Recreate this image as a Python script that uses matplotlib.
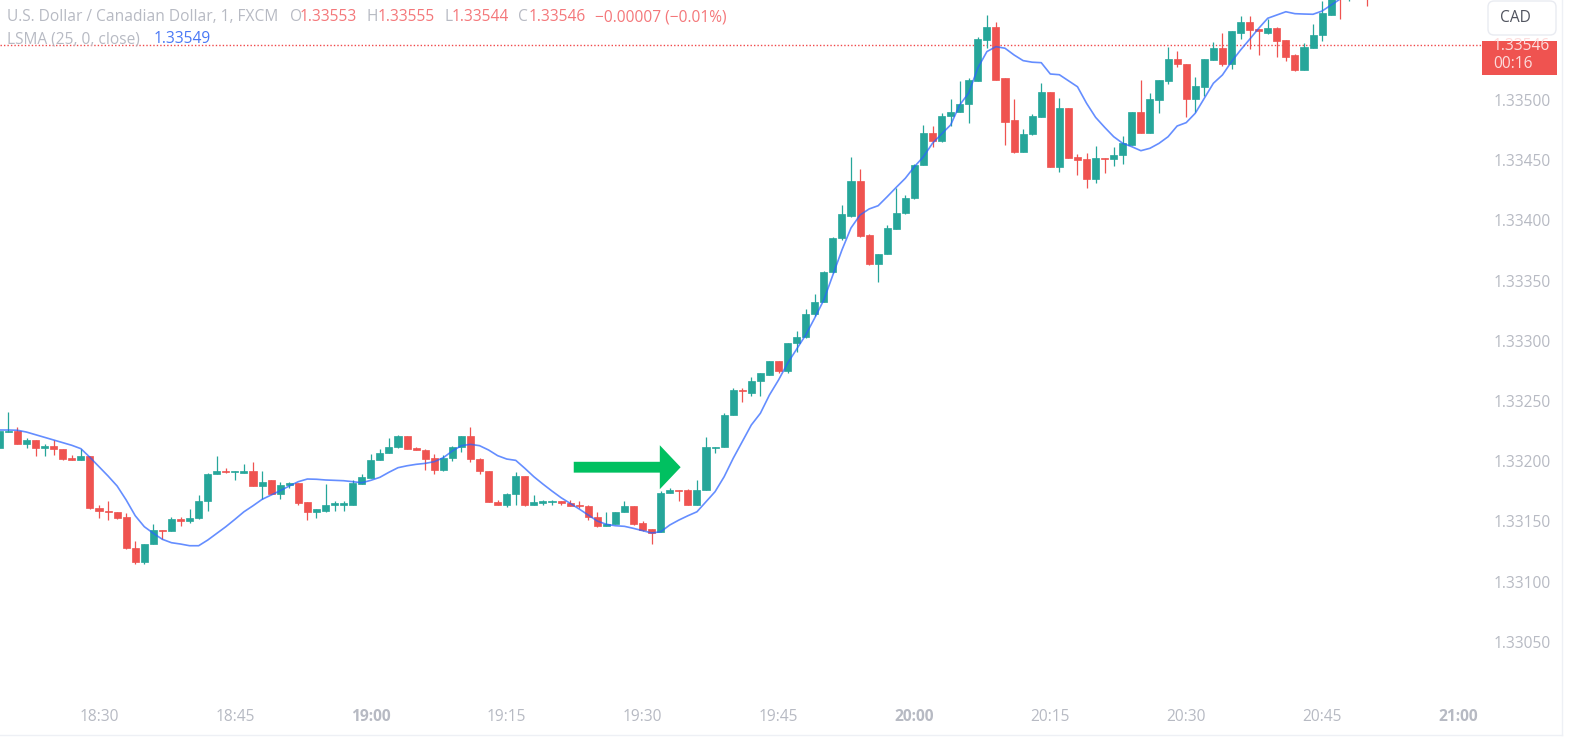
import matplotlib
matplotlib.use('Agg')
import matplotlib.pyplot as plt
from matplotlib.patches import FancyArrow, FancyBboxPatch, Rectangle
import numpy as np

plt.rcParams['font.family'] = ['Open Sans', 'DejaVu Sans']

# prices are kept as points above 1.33000, one row per 10 minutes, first bar is 18:19
BASE = 1.33
FIRST_MINUTE = 19  # minutes after 18:00

opens = [211, 224, 225, 214, 218, 211, 213, 210, 203, 201,
         204, 161, 159, 158, 154, 128, 116, 131, 143, 142,
         152, 150, 153, 167, 189, 192, 191, 190, 192, 179,
         184, 173, 180, 182, 166, 158, 159, 164, 164, 164,
         181, 186, 201, 207, 212, 221, 211, 209, 203, 193,
         203, 212, 221, 202, 192, 166, 164, 173, 188, 164,
         165, 166, 167, 165, 164, 163, 154, 146, 148, 158,
         163, 149, 144, 141, 174, 176, 176, 164, 176, 211,
         212, 238, 259, 257, 267, 272, 283, 275, 298, 303,
         322, 332, 357, 385, 404, 433, 388, 364, 372, 393,
         406, 419, 446, 473, 466, 487, 490, 497, 516, 550,
         561, 518, 483, 457, 472, 486, 507, 444, 493, 453,
         451, 434, 452, 451, 454, 463, 490, 473, 500, 516,
         534, 530, 501, 511, 533, 543, 530, 556, 565, 559,
         556, 560, 550, 537, 525, 543, 554, 571, 593, 586,
         592, 598]
highs = [225, 241, 228, 219, 218, 214, 218, 210, 205, 210,
         204, 164, 167, 158, 157, 134, 131, 148, 143, 154,
         154, 160, 172, 190, 204, 194, 192, 198, 199, 192,
         184, 183, 183, 182, 166, 160, 181, 167, 167, 184,
         189, 206, 210, 219, 222, 221, 212, 210, 206, 205,
         213, 221, 228, 203, 192, 168, 174, 191, 188, 172,
         168, 168, 167, 168, 167, 164, 158, 158, 158, 167,
         163, 150, 144, 175, 178, 176, 177, 184, 220, 212,
         240, 261, 261, 270, 273, 283, 283, 298, 308, 326,
         339, 358, 386, 413, 453, 443, 389, 372, 396, 427,
         421, 447, 479, 478, 489, 501, 516, 518, 552, 571,
         565, 518, 501, 476, 488, 514, 507, 502, 493, 455,
         456, 462, 452, 461, 470, 490, 517, 506, 517, 544,
         541, 530, 519, 534, 548, 556, 557, 570, 570, 559,
         567, 561, 550, 538, 547, 563, 582, 590, 595, 596,
         600, 600]
lows = [211, 224, 214, 211, 204, 204, 205, 201, 201, 201,
        160, 153, 151, 152, 127, 115, 115, 131, 135, 142,
        146, 149, 152, 159, 189, 190, 184, 190, 179, 169,
        173, 169, 178, 164, 151, 153, 158, 159, 159, 164,
        181, 186, 201, 207, 211, 210, 209, 193, 189, 192,
        200, 208, 199, 189, 166, 164, 162, 164, 163, 164,
        164, 164, 164, 163, 161, 151, 145, 146, 148, 158,
        147, 142, 131, 141, 174, 167, 164, 164, 176, 207,
        212, 238, 249, 254, 254, 272, 273, 273, 291, 302,
        321, 332, 356, 384, 403, 386, 363, 349, 372, 393,
        405, 418, 446, 461, 465, 478, 490, 481, 516, 543,
        517, 463, 456, 457, 471, 486, 444, 440, 452, 438,
        427, 431, 439, 445, 447, 463, 473, 473, 489, 513,
        527, 486, 490, 503, 533, 528, 526, 551, 542, 537,
        555, 536, 532, 524, 525, 543, 549, 571, 567, 582,
        586, 578]
closes = [225, 225, 214, 218, 211, 213, 210, 202, 201, 204,
          161, 159, 158, 153, 128, 116, 131, 143, 142, 152,
          150, 153, 167, 189, 192, 191, 192, 192, 179, 183,
          173, 180, 182, 165, 158, 160, 164, 165, 165, 182,
          187, 201, 207, 212, 221, 210, 209, 202, 193, 203,
          212, 221, 202, 192, 166, 164, 173, 188, 164, 166,
          167, 167, 165, 163, 163, 154, 146, 148, 158, 163,
          148, 143, 140, 174, 176, 175, 164, 176, 212, 212,
          238, 259, 258, 267, 273, 283, 275, 298, 303, 322,
          332, 357, 385, 405, 433, 387, 364, 372, 394, 406,
          419, 446, 473, 466, 487, 490, 497, 517, 551, 561,
          517, 482, 457, 472, 487, 507, 444, 493, 452, 450,
          434, 452, 451, 454, 464, 490, 473, 501, 517, 534,
          530, 501, 512, 534, 543, 530, 557, 565, 558, 557,
          560, 549, 536, 525, 544, 554, 572, 588, 586, 592,
          598, 590]
lsma = [225.9, 225.9, 225.7, 224.2, 222.0, 219.8, 217.6, 215.4, 213.2, 210.4,
        203.2, 195.4, 187.7, 179.4, 167.8, 154.7, 145.6, 140.1, 135.1, 132.3,
        131.2, 129.8, 129.8, 134.5, 140.1, 145.6, 151.7, 158.0, 163.0, 168.3,
        171.9, 175.5, 179.4, 183.0, 185.2, 185.0, 184.4, 184.1, 183.8, 183.0,
        182.1, 184.1, 186.6, 190.8, 194.6, 196.2, 197.4, 198.2, 199.6, 202.9,
        208.5, 212.9, 214.0, 212.9, 209.3, 204.6, 201.8, 200.7, 194.1, 187.1,
        181.0, 175.2, 169.7, 165.0, 160.3, 155.3, 150.3, 147.6, 146.4, 145.9,
        144.2, 142.3, 140.4, 141.4, 147.0, 151.1, 154.7, 158.0, 166.4, 174.7,
        187.1, 202.4, 216.2, 230.1, 239.8, 255.0, 267.4, 281.3, 293.0, 304.8,
        319.0, 333.9, 354.7, 375.4, 393.7, 404.5, 409.5, 412.2, 419.7, 427.5,
        435.0, 444.6, 452.9, 464.1, 471.8, 479.3, 495.9, 505.9, 526.6, 540.2,
        544.3, 543.0, 537.4, 532.7, 531.4, 531.0, 521.6, 521.0, 516.0, 511.0,
        497.3, 485.6, 477.3, 469.5, 464.0, 461.2, 457.9, 459.9, 464.0, 469.5,
        478.4, 481.2, 489.0, 501.4, 513.9, 520.8, 531.8, 541.5, 550.4, 559.5,
        567.9, 570.6, 573.3, 571.7, 571.4, 571.2, 573.9, 578.9, 583.9]

time_ticks = list(range(30, 181, 15))
time_labels = ['18:30', '18:45', '19:00', '19:15', '19:30', '19:45',
               '20:00', '20:15', '20:30', '20:45', '21:00']
bold_labels = ['19:00', '20:00', '21:00']
price_ticks = [1.33050, 1.33100, 1.33150, 1.33200, 1.33250, 1.33300,
               1.33350, 1.33400, 1.33450, 1.33500]
last_price = 1.33546

UP = '#26a69a'
DOWN = '#ef5350'
GREY = '#b7bac3'
W, H = 1569, 737
PX_PER_MIN = 9.06
PX_PER_PRICE = 60.2 / 0.0005
FONT = 11.2

o = BASE + np.array(opens) / 1e5
h = BASE + np.array(highs) / 1e5
l = BASE + np.array(lows) / 1e5
c = BASE + np.array(closes) / 1e5
ma = BASE + np.array(lsma) / 1e5
t = FIRST_MINUTE + np.arange(len(o))
colors = np.where(c >= o, UP, DOWN)

fig = plt.figure(figsize=(W / 100, H / 100), dpi=100, facecolor='white')
ax = fig.add_axes([0, (H - 703) / H, 1482 / W, 703 / H])

ax.vlines(t, l, h, colors=colors, lw=0.9, zorder=2)
ax.bar(t, np.abs(c - o), bottom=np.minimum(o, c), width=0.78, color=colors,
       edgecolor=colors, linewidth=0.5, zorder=3)
ax.plot(t[:len(ma)], ma, color='#2962ff', alpha=0.72, lw=1.2, zorder=4)
ax.axhline(last_price, color='#f0484a', lw=1.0, ls=(0, (1, 1.5)), zorder=1)

# green arrow pointing at the entry
ax.add_patch(FancyArrow(82.4, 1.33195, 11.8, 0, width=0.00009, head_width=0.000365,
                        head_length=2.3, length_includes_head=True,
                        color='#00c060', lw=0, zorder=5))

ax.set_xlim(30 - 99 / PX_PER_MIN, 30 + (1482 - 99) / PX_PER_MIN)
ax.set_ylim(1.335 - (703 - 100) / PX_PER_PRICE, 1.335 + 100 / PX_PER_PRICE)
ax.set_xticks(time_ticks)
ax.set_xticklabels(time_labels)
for lab in ax.get_xticklabels():
    if lab.get_text() in bold_labels:
        lab.set_fontweight('bold')
ax.yaxis.tick_right()
ax.set_yticks(price_ticks)
ax.set_yticklabels([f'{p:.5f}' for p in price_ticks])
ax.tick_params(length=0, labelsize=FONT, labelcolor=GREY)
ax.tick_params(axis='x', pad=4.5)
ax.tick_params(axis='y', pad=8)
for s in ax.spines.values():
    s.set_visible(False)

# chart furniture, overlay in pixel coordinates
ui = fig.add_axes([0, 0, 1, 1], facecolor='none')
ui.set_xlim(0, W)
ui.set_ylim(H, 0)
ui.axis('off')

HEAD_RED = '#f4777a'
row1 = [(7, 'U.S. Dollar / Canadian Dollar, 1, FXCM', GREY), (290, 'O', GREY),
        (300, '1.33553', HEAD_RED), (367, 'H', GREY), (378, '1.33555', HEAD_RED),
        (444, 'L', GREY), (452, '1.33544', HEAD_RED), (518, 'C', GREY),
        (529, '1.33546', HEAD_RED), (595, '\u22120.00007 (\u22120.01%)', HEAD_RED)]
for x, s, col in row1:
    ui.text(x, 17, s, color=col, fontsize=FONT, va='center', ha='left')
ui.text(7, 39, 'LSMA (25, 0, close)', color=GREY, fontsize=FONT, va='center', ha='left')
ui.text(154, 39, '1.33549', color='#4a78f5', fontsize=FONT, va='center', ha='left')

box = Rectangle((1482, 41), 75, 34, color=DOWN, lw=0)
ui.add_patch(box)
price_txt = ui.text(1493, 46, f'{last_price:.5f}', color='#fcdcdc', fontsize=FONT, va='center', ha='left')
price_txt.set_clip_path(box)
ui.text(1493, 64, '00:16', color='#fcdcdc', fontsize=FONT, va='center', ha='left')

ui.add_patch(FancyBboxPatch((1492, 5), 60, 26, boxstyle='round,pad=4,rounding_size=6',
                            fc='white', ec='#e9ebf1', lw=1))
ui.text(1500, 18, 'CAD', color='#50535e', fontsize=FONT, va='center', ha='left')

ui.plot([1562, 1562], [0, 735], color='#eef0f5', lw=1)
ui.plot([0, 1562], [735, 735], color='#eef0f5', lw=1)

fig.savefig('out.png', dpi=100)
